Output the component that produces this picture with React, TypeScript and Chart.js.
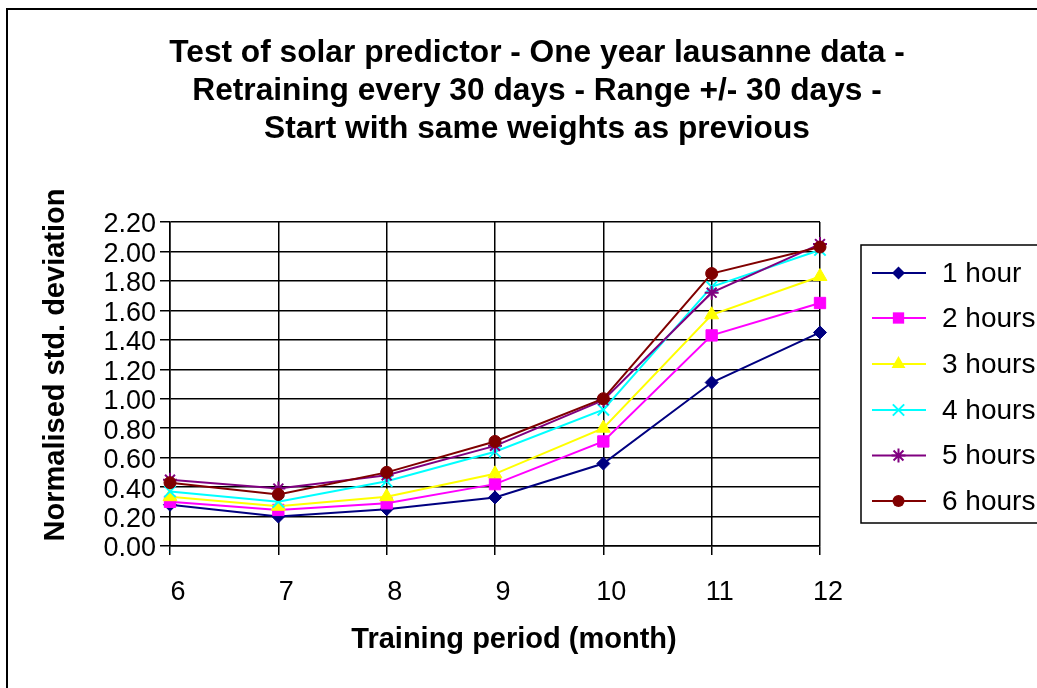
import React, { useEffect, useRef } from 'react';
import { Chart, registerables } from 'chart.js';

Chart.register(...registerables);

const FONT = '"Liberation Sans", Arial, Helvetica, sans-serif';

const titleLines = [
  'Test of solar predictor - One year lausanne data -',
  'Retraining every 30 days - Range +/- 30 days -',
  'Start with same weights as previous',
];
const xAxisTitle = 'Training period (month)';
const yAxisTitle = 'Normalised std. deviation';

const months = ['6', '7', '8', '9', '10', '11', '12'];
const seriesNames = ['1 hour', '2 hours', '3 hours', '4 hours', '5 hours', '6 hours'];

const oneHour = [0.28, 0.2, 0.25, 0.33, 0.56, 1.11, 1.45];
const twoHours = [0.3, 0.245, 0.29, 0.42, 0.71, 1.43, 1.65];
const threeHours = [0.335, 0.27, 0.335, 0.49, 0.8, 1.57, 1.83];
const fourHours = [0.37, 0.3, 0.44, 0.64, 0.925, 1.76, 2.01];
const fiveHours = [0.45, 0.39, 0.48, 0.68, 0.99, 1.72, 2.05];
const sixHours = [0.43, 0.35, 0.5, 0.71, 1.0, 1.85, 2.03];

const seriesValues = [oneHour, twoHours, threeHours, fourHours, fiveHours, sixHours];
const seriesColors = ['#000080', '#FF00FF', '#FFFF00', '#00FFFF', '#800080', '#800000'];
const seriesPoints = ['rectRot', 'rect', 'triangle', 'crossRot', 'star', 'circle'];
const seriesRadius = [6.5, 8, 8, 8, 7, 6];

const yMin = 0;
const yMax = 2.2;
const yStep = 0.2;

function drawMarker(
  ctx: CanvasRenderingContext2D,
  style: string,
  x: number,
  y: number,
  r: number,
  color: string
) {
  ctx.save();
  ctx.fillStyle = color;
  ctx.strokeStyle = color;
  ctx.lineWidth = 2;
  ctx.beginPath();
  if (style === 'circle') {
    ctx.arc(x, y, r, 0, Math.PI * 2);
    ctx.fill();
  } else if (style === 'rectRot') {
    ctx.moveTo(x, y - r);
    ctx.lineTo(x + r, y);
    ctx.lineTo(x, y + r);
    ctx.lineTo(x - r, y);
    ctx.closePath();
    ctx.fill();
  } else if (style === 'rect') {
    const s = r * Math.SQRT1_2;
    ctx.rect(x - s, y - s, 2 * s, 2 * s);
    ctx.fill();
  } else if (style === 'triangle') {
    ctx.moveTo(x, y - r);
    ctx.lineTo(x + 0.866 * r, y + 0.5 * r);
    ctx.lineTo(x - 0.866 * r, y + 0.5 * r);
    ctx.closePath();
    ctx.fill();
  } else if (style === 'crossRot') {
    const d = r * Math.SQRT1_2;
    ctx.moveTo(x - d, y - d);
    ctx.lineTo(x + d, y + d);
    ctx.moveTo(x - d, y + d);
    ctx.lineTo(x + d, y - d);
    ctx.stroke();
  } else if (style === 'star') {
    const d = r * Math.SQRT1_2;
    ctx.moveTo(x - r, y);
    ctx.lineTo(x + r, y);
    ctx.moveTo(x, y - r);
    ctx.lineTo(x, y + r);
    ctx.moveTo(x - d, y - d);
    ctx.lineTo(x + d, y + d);
    ctx.moveTo(x - d, y + d);
    ctx.lineTo(x + d, y - d);
    ctx.stroke();
  }
  ctx.restore();
}

const decorPlugin = {
  id: 'decor',
  beforeDraw(chart: any) {
    const ctx = chart.ctx as CanvasRenderingContext2D;
    ctx.save();
    ctx.fillStyle = '#ffffff';
    ctx.fillRect(0, 0, chart.width, chart.height);
    ctx.strokeStyle = '#000';
    ctx.lineWidth = 2;
    ctx.strokeRect(7, 9, chart.width + 20, chart.height + 20);
    ctx.restore();
  },
  afterDraw(chart: any) {
    const ctx = chart.ctx as CanvasRenderingContext2D;
    ctx.save();
    // Title
    ctx.fillStyle = '#000';
    ctx.textAlign = 'center';
    ctx.textBaseline = 'alphabetic';
    ctx.font = `bold 31.7px ${FONT}`;
    const baselines = [62, 100, 138];
    titleLines.forEach((t, i) => ctx.fillText(t, 537, baselines[i]));

    // X axis title
    ctx.font = `bold 29px ${FONT}`;
    ctx.textBaseline = 'middle';
    ctx.fillText(xAxisTitle, 514, 640);

    // Y axis title
    ctx.save();
    ctx.translate(56, 365);
    ctx.rotate(-Math.PI / 2);
    ctx.fillText(yAxisTitle, 0, 0);
    ctx.restore();

    // Legend
    const bx = 861;
    const by = 245;
    ctx.fillStyle = '#fff';
    ctx.fillRect(bx, by, 200, 278);
    ctx.strokeStyle = '#000';
    ctx.lineWidth = 1.5;
    ctx.strokeRect(bx, by, 200, 278);
    const itemYs = [273, 318, 364, 410, 455.5, 501];
    chart.data.datasets.forEach((ds: any, i: number) => {
      const y = itemYs[i];
      ctx.strokeStyle = ds.borderColor;
      ctx.lineWidth = 2;
      ctx.beginPath();
      ctx.moveTo(872, y);
      ctx.lineTo(926, y);
      ctx.stroke();
      drawMarker(ctx, ds.pointStyle, 898.5, y, ds.pointRadius, ds.borderColor);
      ctx.fillStyle = '#000';
      ctx.font = `28px ${FONT}`;
      ctx.textAlign = 'left';
      ctx.textBaseline = 'middle';
      ctx.fillText(ds.label, 942, y + 1);
    });
    ctx.restore();
  },
};

export default function App() {
  const ref = useRef<HTMLCanvasElement>(null);

  useEffect(() => {
    if (!ref.current) return;
    const datasets = seriesNames.map((name, i) => ({
      label: name,
      data: seriesValues[i],
      borderColor: seriesColors[i],
      backgroundColor: seriesColors[i],
      pointBackgroundColor: seriesColors[i],
      pointBorderColor: seriesColors[i],
      pointStyle: seriesPoints[i],
      pointRadius: seriesRadius[i],
      pointBorderWidth: seriesPoints[i] === 'crossRot' || seriesPoints[i] === 'star' ? 2 : 1,
      borderWidth: 2,
      tension: 0,
      fill: false,
      clip: false as any,
      order: seriesNames.length - i,
    }));

    const chart = new Chart(ref.current, {
      type: 'line',
      data: { labels: months, datasets },
      plugins: [decorPlugin],
      options: {
        animation: false,
        responsive: false,
        maintainAspectRatio: false,
        layout: { padding: { top: 222, right: 217, bottom: 0, left: 0 } },
        plugins: {
          legend: { display: false },
          title: { display: false },
          tooltip: { enabled: false },
        },
        scales: {
          x: {
            type: 'category',
            offset: false,
            grid: { color: '#000', lineWidth: 1.5, tickLength: 9, offset: false, drawTicks: true },
            border: { color: '#000', width: 1.5 },
            ticks: {
              color: '#000',
              font: { family: FONT, size: 27 },
              padding: 21,
              labelOffset: 8,
              maxRotation: 0,
              autoSkip: false,
            },
            afterFit: (s: any) => {
              s.height = 142;
            },
          },
          y: {
            min: yMin,
            max: yMax,
            grid: { color: '#000', lineWidth: 1.5, tickLength: 10, drawTicks: true },
            border: { color: '#000', width: 1.5 },
            ticks: {
              stepSize: yStep,
              autoSkip: false,
              color: '#000',
              font: { family: FONT, size: 27 },
              padding: 4,
              labelOffset: 3,
              callback: (v: any) => Number(v).toFixed(2),
            },
            afterFit: (s: any) => {
              s.width = 170;
            },
          },
        },
      } as any,
    });
    return () => chart.destroy();
  }, []);

  return (
    <div style={{ position: 'absolute', left: 0, top: 0, width: 1037, height: 688, background: '#fff' }}>
      <canvas ref={ref} width={1037} height={688} style={{ display: 'block', width: 1037, height: 688 }} />
    </div>
  );
}
